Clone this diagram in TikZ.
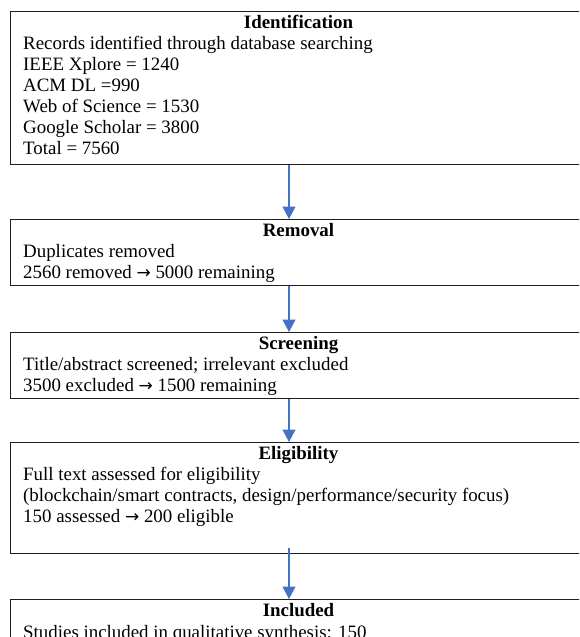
\documentclass[tikz,border=0pt]{standalone}
\usepackage{fontspec}
\setmainfont{Liberation Serif}
\newfontfamily\arrowfont{DejaVu Sans}
\usetikzlibrary{arrows.meta, positioning, calc}
\definecolor{flowBlue}{RGB}{68,114,196}
\definecolor{boxGrey}{RGB}{30,30,30}
\newcommand{\thenarrow}{{\arrowfont\fontsize{17}{21}\selectfont →}}

\tikzset{
  stagebox/.style={draw=boxGrey, line width=1.4pt, anchor=north west, minimum width=577pt},
  stagetitle/.style={anchor=base, inner sep=0pt, font=\fontsize{18.9}{21}\selectfont\bfseries},
  stageline/.style={anchor=base west, inner sep=0pt, font=\fontsize{18.9}{21}\selectfont},
  flow/.style={draw=flowBlue, line width=1.2pt, -{Triangle[length=12.5pt, width=13pt]}}
}

\begin{document}
\begin{tikzpicture}[x=1pt, y=-1pt]
  \useasboundingbox (0,0) rectangle (579,637);
  \clip (0,0) rectangle (579,637);

  % Stage boxes
  \node[stagebox, minimum height=153pt] (idbox) at (10,11) {};
  \node[stagebox, minimum height=66pt] (rmbox) at (10,219) {};
  \node[stagebox, minimum height=66pt] (scbox) at (10,332) {};
  \node[stagebox, minimum height=111pt] (elbox) at (10,442) {};
  \node[stagebox, minimum height=100pt] (inbox) at (10,599) {};

  % Identification
  \node[stagetitle] (idtitle) at (298.5,28.5) {Identification};
  \node[stageline] (id1) at (23,49.5) {Records identified through database searching};
  \node[stageline] (id2) at (23,70.5) {IEEE Xplore = 1240};
  \node[stageline] (id3) at (23,91.5) {ACM DL =990};
  \node[stageline] (id4) at (23,112.5) {Web of Science = 1530};
  \node[stageline] (id5) at (23,133.5) {Google Scholar = 3800};
  \node[stageline] (id6) at (23,154.5) {Total = 7560};

  % Removal
  \node[stagetitle] (rmtitle) at (298.5,236.5) {Removal};
  \node[stageline] (rm1) at (23,257.5) {Duplicates removed};
  \node[stageline] (rm2) at (23,278.5) {2560 removed \thenarrow{} 5000 remaining};

  % Screening
  \node[stagetitle] (sctitle) at (298.5,349.5) {Screening};
  \node[stageline] (sc1) at (23,370.5) {Title/abstract screened; irrelevant excluded};
  \node[stageline] (sc2) at (23,391.5) {3500 excluded \thenarrow{} 1500 remaining};

  % Eligibility
  \node[stagetitle] (eltitle) at (298.5,459.5) {Eligibility};
  \node[stageline] (el1) at (23,480.5) {Full text assessed for eligibility};
  \node[stageline] (el2) at (23,501.5) {(blockchain/smart contracts, design/performance/security focus)};
  \node[stageline] (el3) at (23,522.5) {150 assessed \thenarrow{} 200 eligible};

  % Included
  \node[stagetitle] (intitle) at (298.5,616.5) {Included};
  \node[stageline] (in1) at (23,638) {Studies included in qualitative synthesis: 150};

  % Flow arrows
  \coordinate (axis) at (289,0);
  \draw[flow] (idbox.south -| axis) -- (rmbox.north -| axis);
  \draw[flow] (rmbox.south -| axis) -- (scbox.north -| axis);
  \draw[flow] (scbox.south -| axis) -- (elbox.north -| axis);
  \draw[flow] ($(elbox.south -| axis)+(0,-6)$) -- (inbox.north -| axis);
\end{tikzpicture}
\end{document}
